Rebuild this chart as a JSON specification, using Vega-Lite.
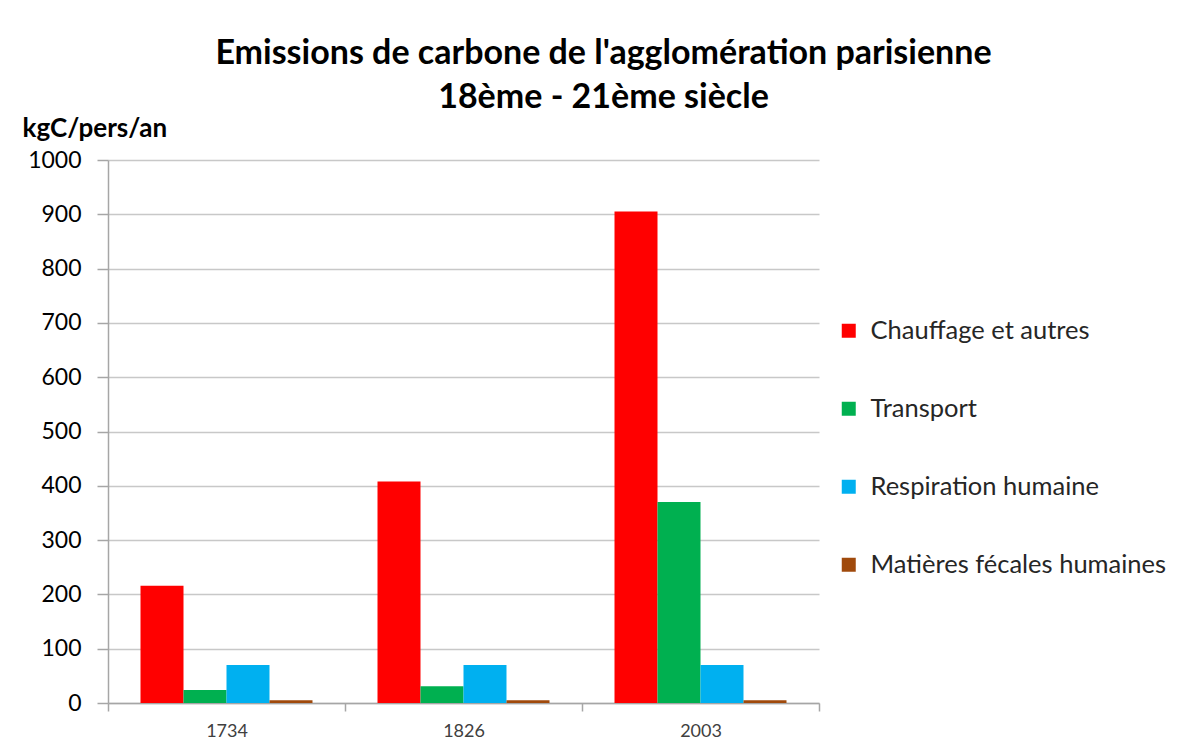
{
  "$schema": "https://vega.github.io/schema/vega-lite/v6.json",
  "autosize": "none",
  "width": 711,
  "height": 543,
  "padding": {"left": 108, "top": 160, "right": 366, "bottom": 50},
  "background": "white",
  "title": {
    "text": ["Emissions de carbone de l'agglomération parisienne", "18ème - 21ème siècle"],
    "font": "Lato",
    "fontSize": 34,
    "fontWeight": "bold",
    "color": "#000000",
    "lineHeight": 44,
    "anchor": "middle",
    "dx": 140,
    "offset": 0
  },
  "data": {
    "values": [
      {"annee": "1734", "categorie": "Chauffage et autres", "valeur": 216},
      {"annee": "1734", "categorie": "Transport", "valeur": 24},
      {"annee": "1734", "categorie": "Respiration humaine", "valeur": 70},
      {"annee": "1734", "categorie": "Matières fécales humaines", "valeur": 5},
      {"annee": "1826", "categorie": "Chauffage et autres", "valeur": 408},
      {"annee": "1826", "categorie": "Transport", "valeur": 31},
      {"annee": "1826", "categorie": "Respiration humaine", "valeur": 70},
      {"annee": "1826", "categorie": "Matières fécales humaines", "valeur": 5},
      {"annee": "2003", "categorie": "Chauffage et autres", "valeur": 905},
      {"annee": "2003", "categorie": "Transport", "valeur": 370},
      {"annee": "2003", "categorie": "Respiration humaine", "valeur": 70},
      {"annee": "2003", "categorie": "Matières fécales humaines", "valeur": 5}
    ]
  },
  "mark": {"type": "bar"},
  "encoding": {
    "x": {
      "field": "annee",
      "type": "nominal",
      "scale": {"paddingInner": 0, "paddingOuter": 0},
      "axis": {
        "title": null,
        "labelAngle": 0,
        "labelFont": "Lato",
        "labelFontSize": 18,
        "labelColor": "#404040",
        "labelPadding": 11,
        "tickBand": "extent",
        "tickSize": 8,
        "tickColor": "#a6a6a6",
        "domainColor": "#a6a6a6",
        "domainWidth": 1.5,
        "tickWidth": 1.5,
        "grid": false
      }
    },
    "xOffset": {
      "field": "categorie",
      "type": "nominal",
      "sort": ["Chauffage et autres", "Transport", "Respiration humaine", "Matières fécales humaines"],
      "scale": {"paddingInner": 0, "paddingOuter": 0.756}
    },
    "y": {
      "field": "valeur",
      "type": "quantitative",
      "scale": {"domain": [0, 1000], "nice": false},
      "axis": {
        "values": [0, 100, 200, 300, 400, 500, 600, 700, 800, 900, 1000],
        "format": "d",
        "title": "kgC/pers/an",
        "titleAngle": 0,
        "titleAlign": "left",
        "titleBaseline": "middle",
        "titleX": -86,
        "titleY": -32,
        "titleFont": "Lato",
        "titleFontSize": 26,
        "titleFontWeight": "bold",
        "titleColor": "#000000",
        "labelFont": "Lato",
        "labelFontSize": 23,
        "labelColor": "#000000",
        "labelPadding": 16,
        "tickSize": 11,
        "tickColor": "#a6a6a6",
        "domainColor": "#a6a6a6",
        "domainWidth": 1.5,
        "tickWidth": 1.5,
        "gridColor": "#c8c8c8",
        "gridWidth": 1.5
      }
    },
    "color": {
      "field": "categorie",
      "type": "nominal",
      "sort": ["Chauffage et autres", "Transport", "Respiration humaine", "Matières fécales humaines"],
      "scale": {
        "domain": ["Chauffage et autres", "Transport", "Respiration humaine", "Matières fécales humaines"],
        "range": ["#ff0000", "#00b050", "#00b0f0", "#a04a0c"]
      },
      "legend": {
        "title": null,
        "orient": "none",
        "legendX": 728,
        "legendY": 158,
        "symbolType": "square",
        "symbolSize": 196,
        "symbolStrokeWidth": 0,
        "labelFont": "Lato",
        "labelFontSize": 25.5,
        "labelColor": "#262626",
        "labelOffset": 9,
        "rowPadding": 51,
        "labelLimit": 400
      }
    }
  },
  "config": {
    "view": {"stroke": null}
  }
}
